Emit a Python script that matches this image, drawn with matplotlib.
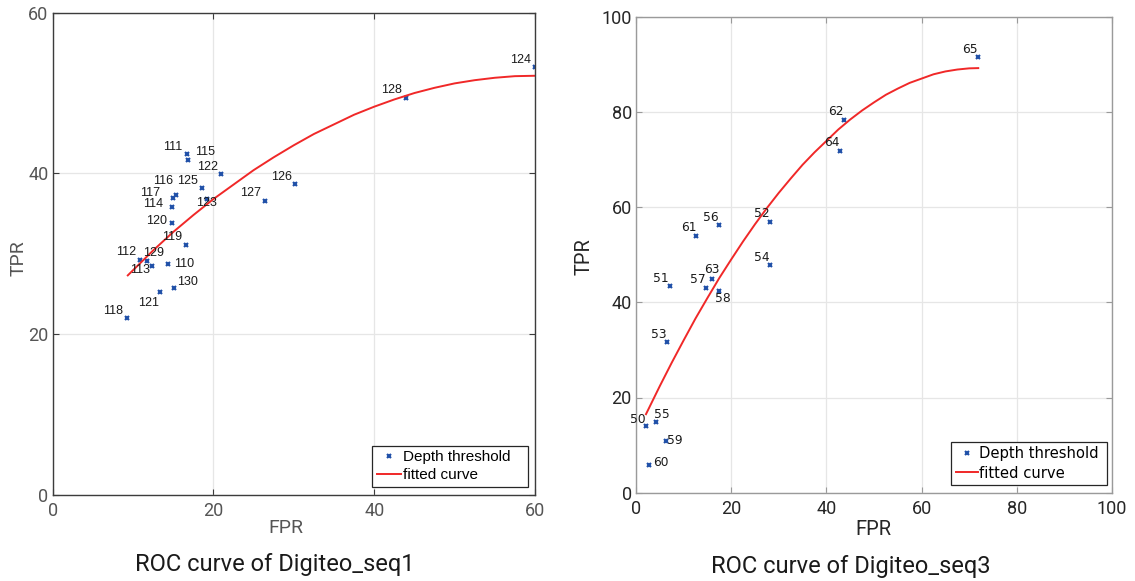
import matplotlib

matplotlib.use("Agg")
import matplotlib.pyplot as plt

# Digiteo_seq1: depth threshold points
seq1_labels = [110, 111, 112, 113, 114, 115, 116, 117, 118, 119, 120,
               121, 122, 123, 124, 125, 126, 127, 128, 129, 130]
seq1_fpr = [14.32, 16.69, 10.88, 12.41, 14.86, 16.89, 15.36, 14.98, 9.30, 16.57, 14.86,
            13.37, 20.96, 19.25, 60.0, 18.56, 30.17, 26.40, 43.90, 11.79, 15.07]
seq1_tpr = [28.67, 42.40, 29.17, 28.50, 35.84, 41.62, 37.26, 36.93, 21.95, 31.08, 33.78,
            25.26, 39.95, 36.80, 53.2, 38.17, 38.63, 36.55, 49.33, 29.09, 25.76]

# Digiteo_seq1: fitted curve
seq1_curve_fpr = [9.35, 12.5, 15, 17.5, 20, 22.5, 25, 27.5, 30, 32.5, 35, 37.5,
                  40, 42.5, 45, 47.5, 50, 52.5, 55, 57.5, 60]
seq1_curve_tpr = [27.3, 30.4, 32.7, 34.8, 36.8, 38.6, 40.4, 42.0, 43.5, 44.9, 46.1, 47.3,
                  48.3, 49.2, 50.0, 50.65, 51.2, 51.6, 51.9, 52.1, 52.15]

# Digiteo_seq3: depth threshold points
seq3_labels = [50, 51, 52, 53, 54, 55, 56, 57, 58, 59, 60, 61, 62, 63, 64, 65]
seq3_fpr = [2.0, 7.1, 28.1, 6.5, 28.1, 4.2, 17.4, 14.7, 17.4, 6.3, 2.7, 12.7, 43.6, 15.9, 42.9, 71.9]
seq3_tpr = [14.0, 43.5, 56.9, 31.7, 47.8, 14.9, 56.2, 43.1, 42.4, 10.9, 5.9, 54.0, 78.4, 44.9, 71.8, 91.6]

# Digiteo_seq3: fitted curve
seq3_curve_fpr = [2.1, 5, 7.5, 10, 12.5, 15, 17.5, 20, 22.5, 25, 27.5, 30, 32.5, 35, 37.5,
                  40, 42.5, 45, 47.5, 50, 52.5, 55, 57.5, 60, 62.5, 65, 67.5, 70, 71.9]
seq3_curve_tpr = [16.5, 22.4, 27.3, 32.0, 36.6, 40.9, 45.1, 49.0, 52.8, 56.4, 59.8, 63.0, 66.0,
                  68.9, 71.5, 73.9, 76.3, 78.4, 80.3, 82.0, 83.6, 84.9, 86.1, 87.0, 87.9,
                  88.5, 88.9, 89.15, 89.2]

# label placement (pixel offsets of the text centre from the point)
seq1_offsets = [(16, 0), (-14, 7), (-14, 8), (-12, -4), (-19, 3), (17, 8), (-13, 14),
                (-23, 5), (-14, 7), (-14, 8), (-16, 2), (-12, -11), (-14, 7), (-1, -4),
                (-14, 7), (-14, 7), (-14, 7), (-14, 8), (-14, 8), (6, 8), (14, 6)]
seq3_offsets = [(-8, 7), (-9, 7), (-8, 8), (-8, 7), (-8, 8), (6, 7), (-8, 8), (-8, 8),
                (4, -8), (9, 0), (12, 2), (-8, 8), (-8, 8), (0, 9), (-8, 8), (-8, 7)]

MARKER_COLOR = "#2050a8"
CURVE_COLOR = "#f02828"
W, H = 1135, 581


def style_axes(ax, spine_color, text_color, xmax, ymax, step):
    ax.set_xlim(0, xmax)
    ax.set_ylim(0, ymax)
    ax.set_xticks(range(0, xmax + 1, step))
    ax.set_yticks(range(0, ymax + 1, step))
    ax.grid(True, color="#e6e6e6", linewidth=0.9)
    ax.set_axisbelow(True)
    for spine in ax.spines.values():
        spine.set_color(spine_color)
        spine.set_linewidth(1.0)
    ax.tick_params(direction="in", length=4, width=0.8, color=spine_color,
                   top=True, right=True, labelsize=13, labelcolor=text_color)
    ax.tick_params(axis="x", pad=5)
    ax.tick_params(axis="y", pad=3)
    for lbl in ax.get_xticklabels() + ax.get_yticklabels():
        lbl.set_fontfamily("Roboto")


def draw_panel(ax, fpr, tpr, labels, offsets, cfpr, ctpr, label_font, label_size):
    ax.plot(fpr, tpr, linestyle="none", marker="x", markersize=3.5, markeredgewidth=1.5,
            color=MARKER_COLOR, label="Depth threshold")
    ax.plot(cfpr, ctpr, color=CURVE_COLOR, linewidth=1.4, label="fitted curve")
    for x, y, name, (dx, dy) in zip(fpr, tpr, labels, offsets):
        ax.annotate(str(name), (x, y), xytext=(dx, dy), textcoords="offset pixels",
                    ha="center", va="center", fontsize=label_size, family=label_font,
                    color="#1a1a1a")


def add_legend(ax, family, size, box, handle_len, text_pad):
    leg = ax.legend(loc="lower left", bbox_to_anchor=box, mode="expand",
                    prop={"family": family, "size": size},
                    frameon=True, fancybox=False, framealpha=1, edgecolor="#262626",
                    handlelength=handle_len, handletextpad=text_pad, labelspacing=0.28,
                    borderpad=0.3, borderaxespad=0)
    leg.get_frame().set_linewidth(0.9)
    return leg


fig = plt.figure(figsize=(W / 100, H / 100), dpi=100)

# left panel
ax1 = fig.add_axes([52.6 / W, 1 - 494.7 / H, 482.4 / W, 482 / H])
draw_panel(ax1, seq1_fpr, seq1_tpr, seq1_labels, seq1_offsets,
           seq1_curve_fpr, seq1_curve_tpr, "Liberation Sans", 9)
style_axes(ax1, "#3c3c3c", "#555555", 60, 60, 20)
ax1.set_xlabel("FPR", fontsize=14, color="#555555", family="Roboto", va="center")
ax1.set_ylabel("TPR", fontsize=14, color="#555555", family="Roboto", va="center")
ax1.xaxis.set_label_coords(0.484, -0.069)
ax1.yaxis.set_label_coords(-0.07, 0.491)
add_legend(ax1, "Liberation Sans", 11, (0.662, 0.016, 0.3235, 0.08), 1.6, 0.1)

# right panel
ax2 = fig.add_axes([636 / W, 1 - 492.7 / H, 476 / W, 476 / H])
draw_panel(ax2, seq3_fpr, seq3_tpr, seq3_labels, seq3_offsets,
           seq3_curve_fpr, seq3_curve_tpr, "DejaVu Sans", 8.8)
style_axes(ax2, "#9a9a9a", "#262626", 100, 100, 20)
ax2.set_xlabel("FPR", fontsize=14.5, color="#262626", family="Roboto", va="center")
ax2.set_ylabel("TPR", fontsize=14.5, color="#262626", family="Roboto", va="center")
ax2.xaxis.set_label_coords(0.498, -0.078)
ax2.yaxis.set_label_coords(-0.109, 0.496)
add_legend(ax2, "DejaVu Sans", 10.6, (0.662, 0.0162, 0.3277, 0.08), 1.5, 0.1)

fig.text(275 / W, 1 - 565 / H, "ROC curve of Digiteo_seq1", ha="center", va="center",
         fontsize=17, family="Roboto", color="#1a1a1a")
fig.text(851 / W, 1 - 567 / H, "ROC curve of Digiteo_seq3", ha="center", va="center",
         fontsize=17, family="Roboto", color="#1a1a1a")

fig.savefig("out.png", dpi=100)
plt.close(fig)
